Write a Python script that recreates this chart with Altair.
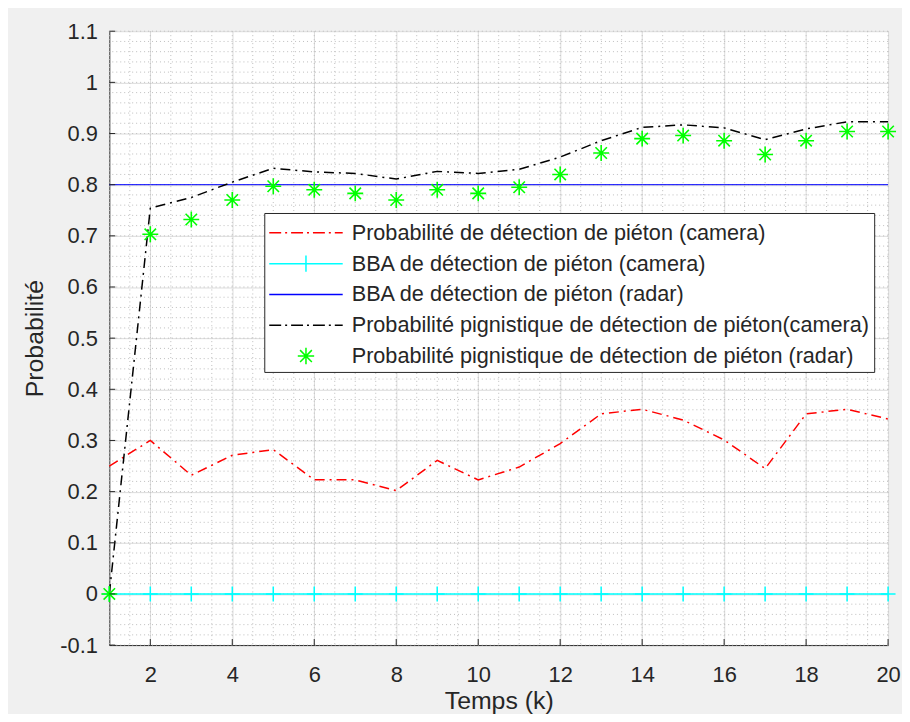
import altair as alt
import pandas as pd

# ---------------- data ----------------
k = list(range(1, 21))
p_cam = [0.250, 0.300, 0.232, 0.271, 0.282, 0.223, 0.223, 0.202, 0.261, 0.223,
         0.248, 0.294, 0.352, 0.361, 0.340, 0.301, 0.245, 0.352, 0.361, 0.342]
bba_cam = [0.0, 0.0, 0.0, 0.0, 0.0, 0.0, 0.0, 0.0, 0.0, 0.0,
           0.0, 0.0, 0.0, 0.0, 0.0, 0.0, 0.0, 0.0, 0.0, 0.0]
bba_radar = [0.8, 0.8, 0.8, 0.8, 0.8, 0.8, 0.8, 0.8, 0.8, 0.8,
             0.8, 0.8, 0.8, 0.8, 0.8, 0.8, 0.8, 0.8, 0.8, 0.8]
pig_cam = [0.000, 0.754, 0.775, 0.805, 0.832, 0.825, 0.822, 0.811, 0.826, 0.822,
           0.830, 0.854, 0.886, 0.912, 0.917, 0.911, 0.888, 0.909, 0.923, 0.923]
pig_radar = [0.000, 0.703, 0.732, 0.770, 0.797, 0.790, 0.783, 0.770, 0.790, 0.783,
             0.795, 0.820, 0.862, 0.890, 0.896, 0.886, 0.859, 0.886, 0.904, 0.904]

labels = [
    "Probabilité de détection de piéton (camera)",
    "BBA de détection de piéton (camera)",
    "BBA de détection de piéton (radar)",
    "Probabilité pignistique de détection de piéton(camera)",
    "Probabilité pignistique de détection de piéton (radar)",
]
colors = ["#ff0000", "#00ffff", "#0000ff", "#000000", "#00ff00"]

x_ticks = [2, 4, 6, 8, 10, 12, 14, 16, 18, 20]
y_ticks = [-0.1, 0.0, 0.1, 0.2, 0.3, 0.4, 0.5, 0.6, 0.7, 0.8, 0.9, 1.0, 1.1]
x_minor = [1 + 0.5 * i for i in range(39)]
y_minor = [round(-0.1 + 0.02 * i, 2) for i in range(61)]

# ---------------- layout ----------------
W, H = 784, 618
FONT = "Liberation Sans"
TXT = "#262626"

xs = alt.Scale(domain=[1, 20], nice=False, zero=False)
ys = alt.Scale(domain=[-0.1, 1.1], nice=False, zero=False)

df = pd.DataFrame({"k": k, "p_cam": p_cam, "bba_cam": bba_cam,
                   "bba_radar": bba_radar, "pig_cam": pig_cam,
                   "pig_radar": pig_radar})

long_rows = []
for name, vals in zip(labels, [p_cam, bba_cam, bba_radar, pig_cam, pig_radar]):
    for kk, v in zip(k, vals):
        long_rows.append({"series": name, "k": kk, "val": v})
long_df = pd.DataFrame(long_rows)

# legend symbol paths (units of 15 px for symbolSize 900)
L0, L1 = -1.0, 3.93
U = 15.0


def dash_path(pattern_px):
    segs = []
    x = L0
    i = 0
    while x < L1 - 1e-6:
        length = pattern_px[i % len(pattern_px)] / U
        x2 = min(x + length, L1)
        if i % 2 == 0:
            segs.append(f"M{x:.3f},0H{x2:.3f}")
        x = x2
        i += 1
    return "".join(segs)


mid = (L0 + L1) / 2
star_r = 0.55
d = star_r * 0.72
sym_paths = [
    dash_path([12, 4, 2, 4]),
    f"M{L0},0H{L1}M{mid:.3f},-0.55V0.55",
    f"M{L0},0H{L1}",
    dash_path([12, 4, 2, 4]),
    (f"M{mid - star_r:.3f},0H{mid + star_r:.3f}M{mid:.3f},-{star_r}V{star_r}"
     f"M{mid - d:.3f},-{d:.3f}L{mid + d:.3f},{d:.3f}"
     f"M{mid - d:.3f},{d:.3f}L{mid + d:.3f},-{d:.3f}"),
]

STAR = "M-1,0H1M0,-1V1M-0.72,-0.72L0.72,0.72M-0.72,0.72L0.72,-0.72"
PLUS = "M-1,0H1M0,-1V1"

xaxis = alt.Axis(values=x_ticks, format="d", ticks=False, labelPadding=20,
                 labelFlush=False, labelOverlap=False,
                 title="Temps (k)", titlePadding=3, grid=True)
yaxis = alt.Axis(values=y_ticks, ticks=False, labelPadding=12,
                 labelFlush=False, labelOverlap=False,
                 labelExpr="replace(format(datum.value, '.1~f'), '\u2212', '-')",
                 title="Probabilité", titlePadding=12, grid=True)


def X(field):
    return alt.X(field, scale=xs, axis=xaxis)


def Y(field):
    return alt.Y(field, scale=ys, axis=yaxis)


# minor dotted grid
gx = alt.Chart(pd.DataFrame({"v": x_minor})).mark_rule(
    color="#bdbdbd", strokeDash=[1, 3], strokeWidth=1
).encode(x=X("v:Q"))
gy = alt.Chart(pd.DataFrame({"v": y_minor})).mark_rule(
    color="#bdbdbd", strokeDash=[1, 3], strokeWidth=1
).encode(y=Y("v:Q"))

base = alt.Chart(df)

red = base.mark_line(color="#ff0000", strokeDash=[10, 5, 2, 5], strokeWidth=1.5).encode(
    x=X("k:Q"), y=Y("p_cam:Q"))
cyan = base.mark_line(color="#00ffff", strokeWidth=1.5).encode(
    x=X("k:Q"), y=Y("bba_cam:Q"))
cyan_pts = base.mark_point(shape=PLUS, size=225, color="#00ffff", filled=False,
                           strokeWidth=1.5, opacity=1).encode(
    x=X("k:Q"), y=Y("bba_cam:Q"))
blue = base.mark_line(color="#0000ff", strokeWidth=1).encode(
    x=X("k:Q"), y=Y("bba_radar:Q"))
black = base.mark_line(color="#000000", strokeDash=[10, 5, 2, 5], strokeWidth=1.5).encode(
    x=X("k:Q"), y=Y("pig_cam:Q"))
green = base.mark_point(shape=STAR, size=256, color="#00ff00", filled=False,
                        strokeWidth=1.6, opacity=1).encode(
    x=X("k:Q"), y=Y("pig_radar:Q"))

# inward ticks
ytk = alt.Chart(pd.DataFrame({"v": y_ticks})).mark_rule(color=TXT).encode(
    y=Y("v:Q"), x=alt.value(0), x2=alt.value(6))
xtk = alt.Chart(pd.DataFrame({"v": x_ticks})).mark_rule(color=TXT).encode(
    x=X("v:Q"), y=alt.value(H - 6), y2=alt.value(H))

leg = alt.Legend(title=None, orient="none", legendX=156, legendY=183,
                 padding=4, fillColor="white", strokeColor=TXT, cornerRadius=0,
                 labelFont=FONT, labelFontSize=21.8, labelColor=TXT, labelLimit=800,
                 symbolSize=900, symbolStrokeWidth=1.5, symbolOpacity=1,
                 labelOffset=52, rowPadding=3)
legend_layer = alt.Chart(long_df).mark_point(filled=False, opacity=0).encode(
    x=X("k:Q"),
    y=Y("val:Q"),
    color=alt.Color("series:N", scale=alt.Scale(domain=labels, range=colors), legend=leg),
    shape=alt.Shape("series:N", scale=alt.Scale(domain=labels, range=sym_paths), legend=leg),
)

chart = alt.layer(
    gx, gy, red, cyan, cyan_pts, blue, black, green, ytk, xtk, legend_layer
).properties(
    width=W, height=H, background="#f0f0f0",
    padding={"left": 102, "top": 21, "right": 14, "bottom": 67},
    autosize=alt.AutoSizeParams(type="none"),
).configure_view(
    fill="white", stroke=None
).configure_axis(
    labelFont=FONT, labelFontSize=22, labelColor=TXT,
    titleFont=FONT, titleFontSize=25, titleFontWeight="normal", titleColor=TXT,
    domainColor=TXT, domainWidth=1, gridColor="#dcdcdc", gridWidth=1,
)

chart.save("out.html", embed_options={"renderer": "svg", "actions": False})
